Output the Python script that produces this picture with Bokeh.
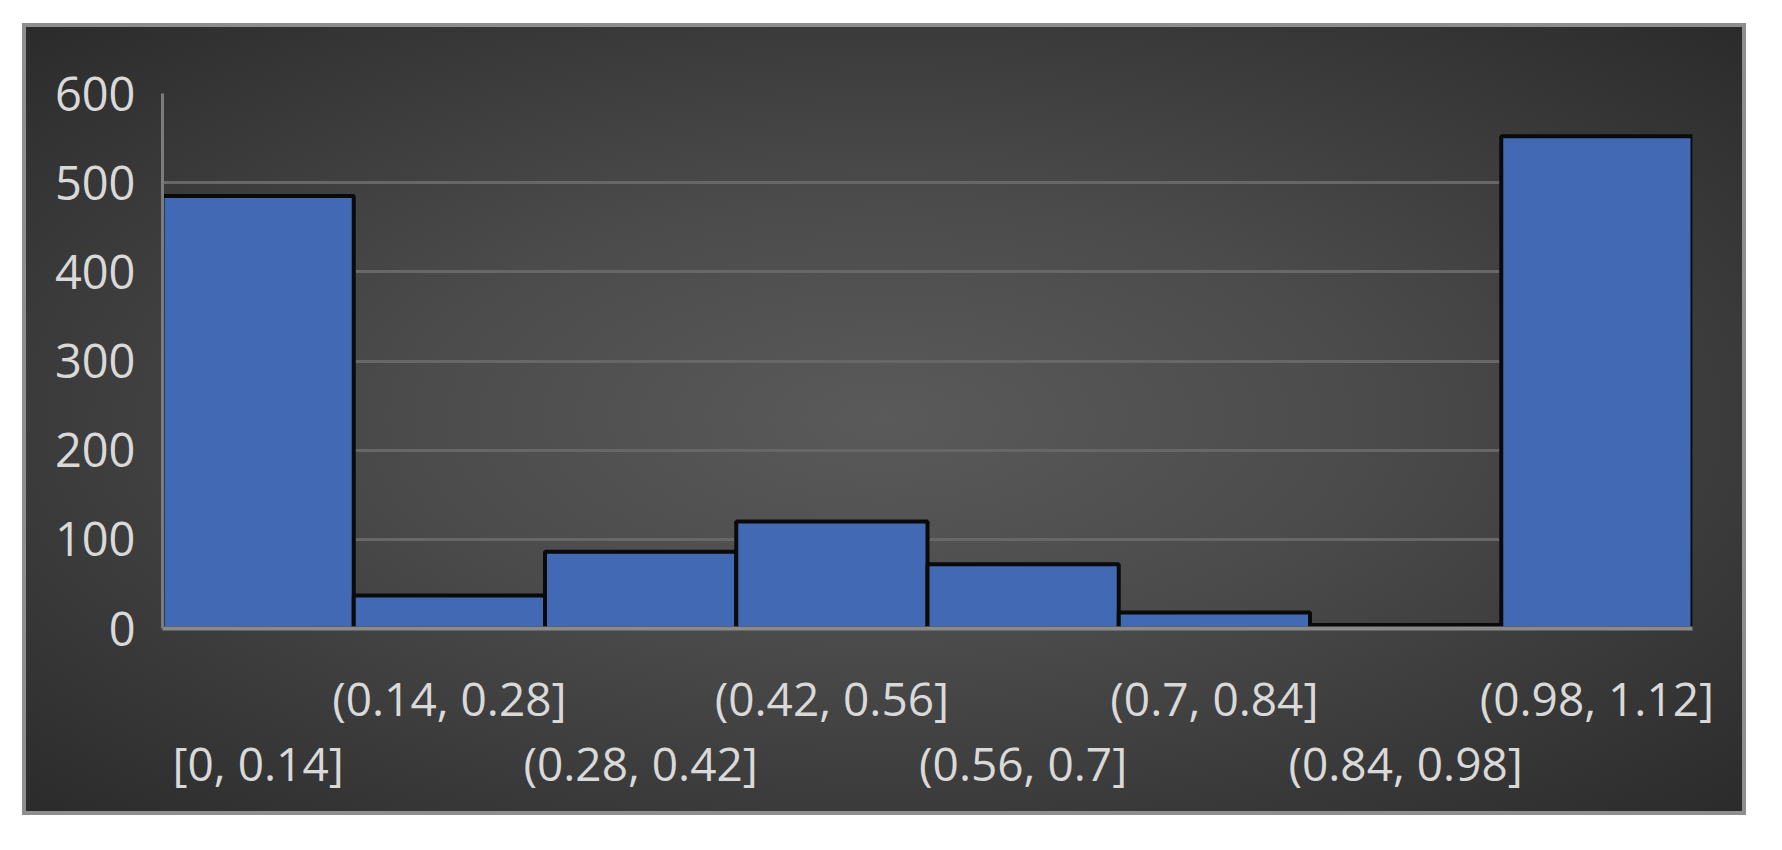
from bokeh.plotting import figure
from bokeh.models import Range1d, FixedTicker, LinearAxis, Spacer
from bokeh.layouts import column, row
from bokeh.embed import file_html
from bokeh.resources import INLINE

# ---- data ----
bins = ["[0, 0.14]", "(0.14, 0.28]", "(0.28, 0.42]", "(0.42, 0.56]",
        "(0.56, 0.7]", "(0.7, 0.84]", "(0.84, 0.98]", "(0.98, 1.12]"]
counts = [485, 37, 86, 120, 72, 18, 4, 552]
y_ticks = [0, 100, 200, 300, 400, 500, 600]

idx = list(range(len(bins)))
FONT = "Open Sans"
TXT = "#d9d9d9"

p = figure(width=1724, height=792,
           x_range=Range1d(-0.5, len(bins) - 0.5),
           y_range=Range1d(0, 600),
           output_backend="svg", toolbar_location=None,
           min_border_left=136, min_border_right=58,
           min_border_top=66, min_border_bottom=191)

p.background_fill_alpha = 0
p.border_fill_alpha = 0
p.outline_line_color = None
p.styles = {
    "background": "radial-gradient(ellipse farthest-corner at 50% 50%, #5a5a5a 0%, #4b4b4b 40%, #2b2b2b 100%)",
    "border": "4px solid #8e8e8e",
}

p.vbar(x=idx, top=counts, width=1.0, bottom=0,
       fill_color="#4169b4", line_color="#0a0a0a", line_width=4)

# grid
p.xgrid.visible = False
p.ygrid.ticker = FixedTicker(ticks=y_ticks)
p.ygrid.grid_line_color = "#676767"
p.ygrid.grid_line_width = 3

# y axis
ya = p.yaxis[0]
ya.ticker = FixedTicker(ticks=y_ticks)
ya.major_tick_line_color = None
ya.minor_tick_line_color = None
ya.axis_line_color = "#7c7c7c"
ya.axis_line_width = 3
ya.major_label_text_font = FONT
ya.major_label_text_font_size = "47px"
ya.major_label_text_color = TXT
ya.major_label_standoff = 21

# x axes: staggered labels
odd = [i for i in idx if i % 2 == 1]
even = [i for i in idx if i % 2 == 0]

xa = p.xaxis[0]
xa.ticker = FixedTicker(ticks=odd)
xa.major_label_overrides = {i: bins[i] for i in odd}
xa.major_tick_line_color = None
xa.minor_tick_line_color = None
xa.axis_line_color = "#8a8a8a"
xa.axis_line_width = 4
xa.major_label_text_font = FONT
xa.major_label_text_font_size = "46px"
xa.major_label_text_color = TXT
xa.major_label_standoff = 32

xb = LinearAxis(ticker=FixedTicker(ticks=even),
                major_label_overrides={i: bins[i] for i in even})
xb.major_tick_line_color = None
xb.minor_tick_line_color = None
xb.axis_line_color = None
xb.major_label_text_font = FONT
xb.major_label_text_font_size = "46px"
xb.major_label_text_color = TXT
xb.major_label_standoff = -6
p.add_layout(xb, "below")

layout = column(Spacer(height=23), row(Spacer(width=22), p))

open("out.html", "w").write(file_html(layout, INLINE))
